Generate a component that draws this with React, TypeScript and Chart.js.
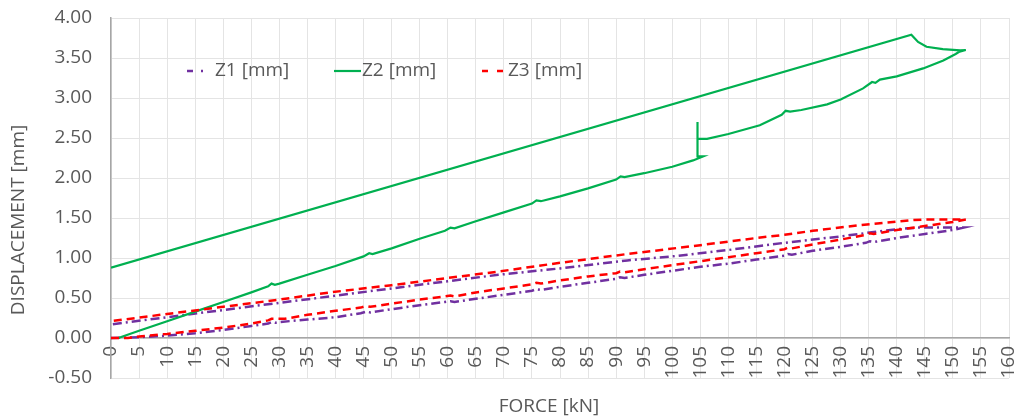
import React, { useEffect, useRef } from 'react';
import { Chart, registerables } from 'chart.js';

Chart.register(...registerables);

// ---------- data ----------
const seriesNames = ['Z1 [mm]', 'Z2 [mm]', 'Z3 [mm]'];
const xTitle = 'FORCE [kN]';
const yTitle = 'DISPLACEMENT [mm]';

const z1Force = [
  0, 5, 10, 15, 20, 25, 28, 28.6, 29.3, 30,
  35, 40, 44.5, 45.5, 46.2, 50, 55, 59.5, 60.5, 61.2,
  65, 70, 75, 75.8, 76.6, 80, 85, 90, 90.7, 91.5,
  95, 100, 105, 110, 115, 120, 120.6, 121.3, 125, 130,
  134.5, 135.2, 135.9, 140, 145, 150, 151.9,
  150, 145, 143.9, 140, 136.4, 130, 120, 110, 100, 92, 80, 69, 60, 50, 39, 30, 20, 10, 0,
];
const z1Disp = [
  0, 0.01, 0.03, 0.06, 0.10, 0.15, 0.18, 0.20, 0.19, 0.20,
  0.23, 0.26, 0.31, 0.33, 0.32, 0.36, 0.41, 0.45, 0.46, 0.45,
  0.49, 0.54, 0.59, 0.61, 0.60, 0.64, 0.69, 0.74, 0.76, 0.75,
  0.79, 0.84, 0.89, 0.93, 0.98, 1.03, 1.05, 1.04, 1.09, 1.14,
  1.19, 1.21, 1.20, 1.25, 1.30, 1.35, 1.38,
  1.38, 1.38, 1.38, 1.36, 1.33, 1.27, 1.19, 1.10, 1.02, 0.97, 0.87, 0.79, 0.71, 0.62, 0.52, 0.44, 0.35, 0.26, 0.17,
];

const z2Force = [
  1.3, 5, 10, 15, 20, 25, 28, 28.6, 29.2, 30,
  35, 40, 45, 46, 46.6, 50, 55, 59.5, 60.5, 61.2,
  65, 70, 75, 75.8, 76.6, 80, 85, 90, 90.8, 91.5,
  95, 100, 103.7, 105.5, 104.5, 104.5, 104.5, 106.2, 110, 115.6,
  119.5, 120.2, 121, 123, 127.6, 130, 134, 135.6, 136.2, 137,
  140, 144.7, 148.3, 150.5, 151.2, 152.3, 151.3, 148.2, 145.3, 143.8,
  142.6, 0,
];
const z2Disp = [
  0, 0.09, 0.21, 0.33, 0.45, 0.57, 0.645, 0.68, 0.665, 0.68,
  0.79, 0.90, 1.02, 1.06, 1.05, 1.12, 1.24, 1.34, 1.38, 1.37,
  1.46, 1.57, 1.68, 1.72, 1.71, 1.77, 1.87, 1.98, 2.02, 2.01,
  2.06, 2.14, 2.22, 2.27, 2.27, 2.70, 2.49, 2.49, 2.55, 2.66,
  2.79, 2.84, 2.83, 2.85, 2.92, 2.98, 3.12, 3.20, 3.19, 3.23,
  3.27, 3.37, 3.47, 3.55, 3.58, 3.60, 3.595, 3.61, 3.64, 3.70,
  3.79, 0.88,
];

const z3Force = [
  0, 3, 5, 10, 15, 20, 25, 28, 28.6, 31,
  35, 40, 44.5, 45.5, 46.2, 50, 55, 59.5, 60.5, 61.2,
  65, 70, 75, 75.8, 76.6, 80, 85, 90, 90.7, 91.5,
  95, 100, 105, 110, 115, 120, 120.6, 121.3, 125, 130,
  134.5, 135.2, 135.9, 140, 145, 150, 152.3,
  150, 145, 143, 139.3, 133.4, 125, 120, 115, 105, 92, 80, 69, 60, 50, 39, 30, 20, 10, 0,
];
const z3Disp = [
  0, 0, 0.02, 0.05, 0.09, 0.13, 0.18, 0.22, 0.24, 0.24,
  0.29, 0.34, 0.38, 0.40, 0.39, 0.43, 0.48, 0.52, 0.53, 0.52,
  0.57, 0.62, 0.67, 0.69, 0.68, 0.72, 0.77, 0.81, 0.83, 0.82,
  0.86, 0.91, 0.96, 1.01, 1.06, 1.11, 1.13, 1.12, 1.17, 1.23,
  1.29, 1.31, 1.30, 1.35, 1.40, 1.45, 1.48,
  1.48, 1.48, 1.475, 1.45, 1.41, 1.34, 1.29, 1.25, 1.16, 1.05, 0.94, 0.83, 0.75, 0.66, 0.57, 0.48, 0.39, 0.30, 0.21,
];

const xMin = 0;
const xMax = 160;
const xStep = 5;
const yMin = -0.5;
const yMax = 4;
const yStep = 0.5;

// ---------- styles ----------
const FONT = '"Open Sans", "Noto Sans", sans-serif';
const FONT_SIZE = 19;
const TEXT = '#595959';
const GRID = '#e4e4e4';
const AXIS = '#a6a6a6';
const colors = ['#7030a0', '#00b050', '#ff0000'];
const dashes: number[][] = [[9, 4, 2, 4], [], [8, 5]];
const widths = [2.5, 2.2, 2.5];

const toPoints = (xs: number[], ys: number[]) => xs.map((x, i) => ({ x, y: ys[i] }));

const zeroPadding = (scale: any) => {
  scale.paddingLeft = 0;
  scale.paddingRight = 0;
  scale.paddingTop = 0;
  scale.paddingBottom = 0;
};

const overlayPlugin = {
  id: 'overlay',
  afterDraw(chart: any) {
    const ctx = chart.ctx as CanvasRenderingContext2D;
    ctx.save();
    ctx.fillStyle = TEXT;
    ctx.font = `${FONT_SIZE}px ${FONT}`;
    ctx.textBaseline = 'middle';

    // Y axis title
    ctx.save();
    ctx.translate(19, 220);
    ctx.rotate(-Math.PI / 2);
    ctx.textAlign = 'center';
    ctx.fillText(yTitle, 0, 0);
    ctx.restore();

    // X axis title
    ctx.textAlign = 'center';
    ctx.fillText(xTitle, 549, 407);

    // Legend
    const ly = 71;
    const items = [
      { x0: 187, x1: 206, tx: 215 },
      { x0: 334, x1: 361, tx: 362 },
      { x0: 482, x1: 504, tx: 508 },
    ];
    items.forEach((it, i) => {
      ctx.save();
      ctx.strokeStyle = colors[i];
      ctx.lineWidth = widths[i];
      ctx.setLineDash(i === 0 ? [6, 8, 2, 4] : i === 2 ? [6, 9] : []);
      ctx.beginPath();
      ctx.moveTo(it.x0, ly);
      ctx.lineTo(it.x1, ly);
      ctx.stroke();
      ctx.restore();
      ctx.textAlign = 'left';
      ctx.fillText(seriesNames[i], it.tx, ly);
    });
    ctx.restore();
  },
};

export default function App() {
  const canvasRef = useRef<HTMLCanvasElement | null>(null);

  useEffect(() => {
    if (!canvasRef.current) return;
    Chart.defaults.font.family = FONT;
    Chart.defaults.font.size = FONT_SIZE;
    Chart.defaults.color = TEXT;

    const sets = [toPoints(z1Force, z1Disp), toPoints(z2Force, z2Disp), toPoints(z3Force, z3Disp)];
    const orders = [2, 1, 0];

    const chart = new Chart(canvasRef.current, {
      type: 'scatter',
      data: {
        datasets: sets.map((data, i) => ({
          label: seriesNames[i],
          data,
          showLine: true,
          borderColor: colors[i],
          backgroundColor: colors[i],
          borderWidth: widths[i],
          borderDash: dashes[i],
          pointRadius: 0,
          pointHoverRadius: 0,
          tension: 0,
          order: orders[i],
        })),
      },
      options: {
        animation: false,
        responsive: true,
        maintainAspectRatio: false,
        layout: { padding: { top: 18, right: 11, bottom: 42, left: 0 } },
        plugins: {
          legend: { display: false },
          tooltip: { enabled: false },
        },
        scales: {
          x: {
            type: 'linear',
            position: { y: 0 } as any,
            min: xMin,
            max: xMax,
            afterFit: zeroPadding,
            grid: { color: GRID, drawTicks: false, lineWidth: 1 },
            border: { display: true, color: AXIS, width: 1.5 },
            ticks: {
              stepSize: xStep,
              autoSkip: false,
              maxRotation: 90,
              minRotation: 90,
              padding: 8,
              color: TEXT,
              font: { size: FONT_SIZE, family: FONT },
              callback: (v: any) => String(v),
            },
          },
          y: {
            type: 'linear',
            position: 'left',
            min: yMin,
            max: yMax,
            afterFit: (scale: any) => {
              scale.width = 111;
              zeroPadding(scale);
            },
            grid: { color: GRID, drawTicks: false, lineWidth: 1 },
            border: { display: true, color: AXIS, width: 1.5 },
            ticks: {
              stepSize: yStep,
              padding: 19,
              color: TEXT,
              font: { size: FONT_SIZE, family: FONT },
              callback: (v: any) => Number(v).toFixed(2),
            },
          },
        },
      },
      plugins: [overlayPlugin],
    });

    return () => chart.destroy();
  }, []);

  return (
    <div style={{ position: 'fixed', left: 0, top: 0, width: 1020, height: 420, background: '#fff' }}>
      <canvas ref={canvasRef} />
    </div>
  );
}
